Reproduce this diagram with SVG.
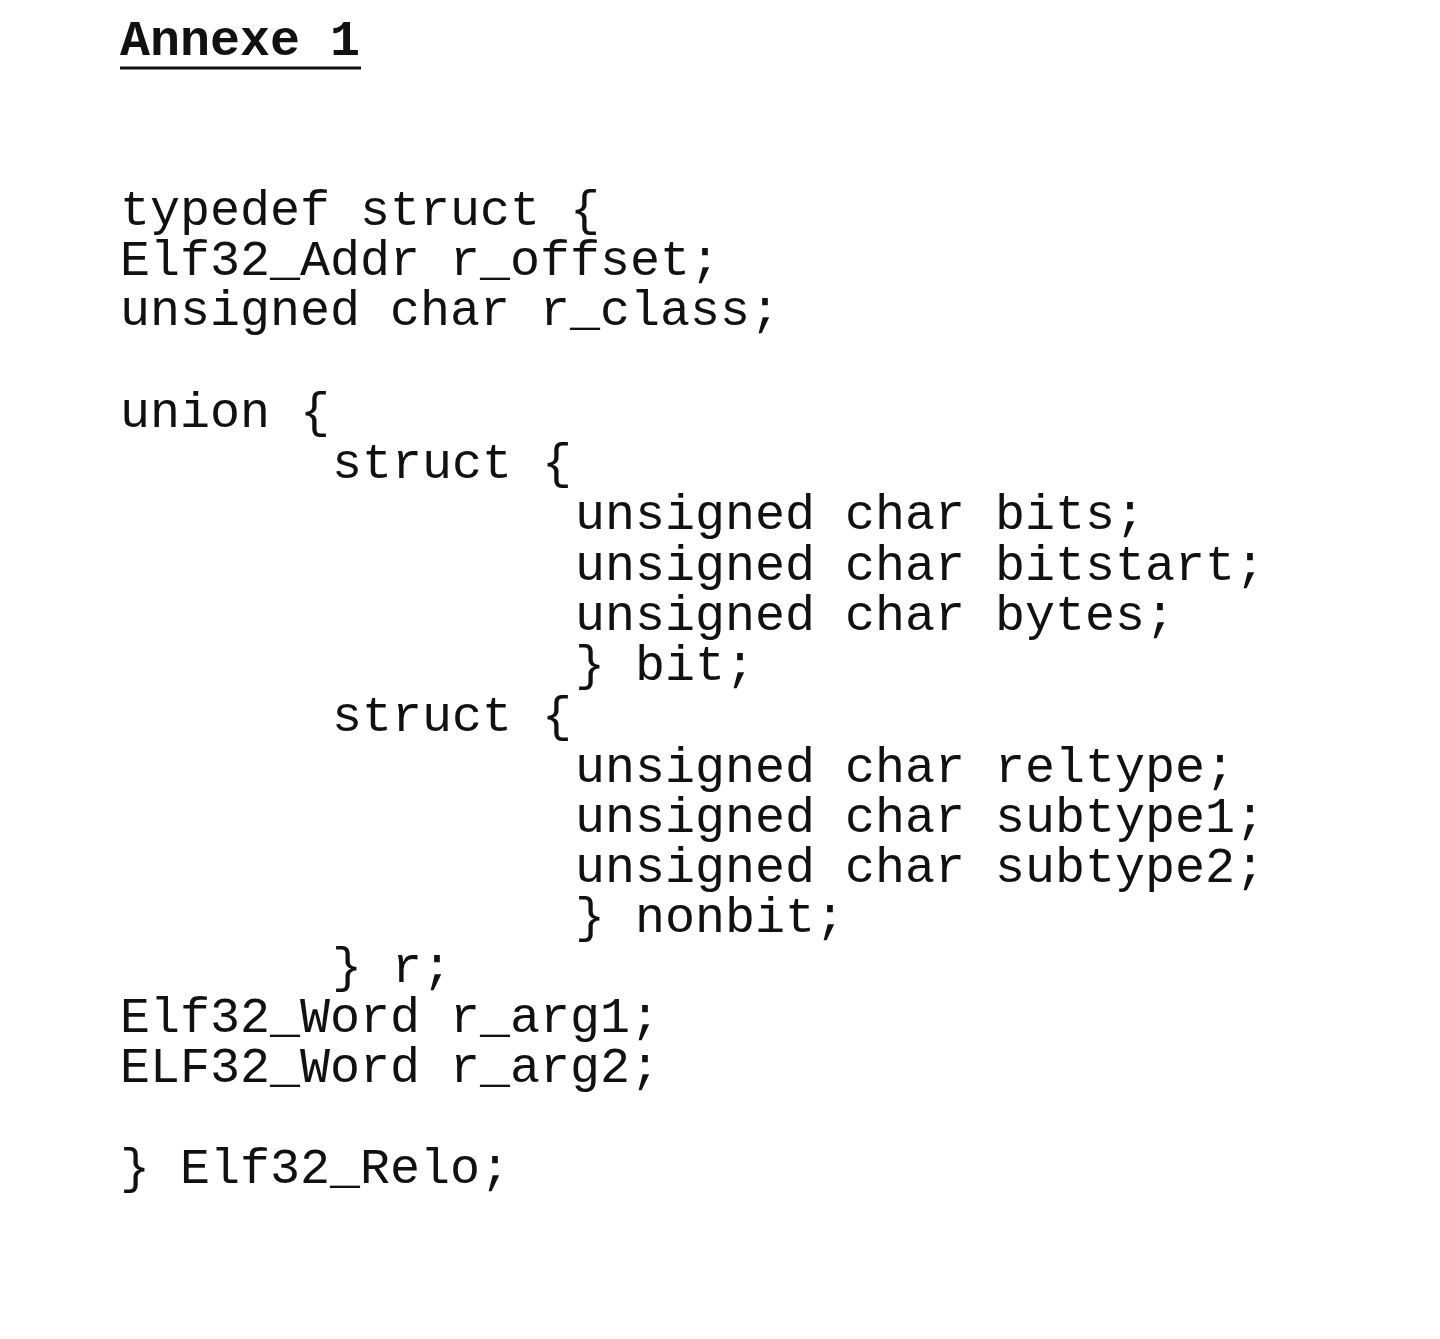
<svg xmlns="http://www.w3.org/2000/svg" width="1440" height="1339" viewBox="0 0 1440 1339">
<style>
text{font-family:"Liberation Mono","Courier New",monospace;font-size:50px;fill:#111;white-space:pre}
.h{font-weight:bold}
</style>
<rect width="1440" height="1339" fill="#fff"/>
<g id="title">
<text class="h" x="120" y="55">Annexe 1</text>
<line x1="120" y1="68" x2="361" y2="68" stroke="#111" stroke-width="3"/>
</g>
<g id="code">
<text x="120" y="225">typedef struct {</text>
<text x="120" y="275">Elf32_Addr r_offset;</text>
<text x="120" y="325">unsigned char r_class;</text>
<text x="120" y="427">union {</text>
<text x="332" y="478">struct {</text>
<text x="575" y="529">unsigned char bits;</text>
<text x="575" y="580">unsigned char bitstart;</text>
<text x="575" y="630">unsigned char bytes;</text>
<text x="575" y="680">} bit;</text>
<text x="332" y="731">struct {</text>
<text x="575" y="782">unsigned char reltype;</text>
<text x="575" y="832">unsigned char subtype1;</text>
<text x="575" y="882">unsigned char subtype2;</text>
<text x="575" y="932">} nonbit;</text>
<text x="332" y="982">} r;</text>
<text x="120" y="1032">Elf32_Word r_arg1;</text>
<text x="120" y="1082">ELF32_Word r_arg2;</text>
<text x="120" y="1183">} Elf32_Relo;</text>
</g>
</svg>
